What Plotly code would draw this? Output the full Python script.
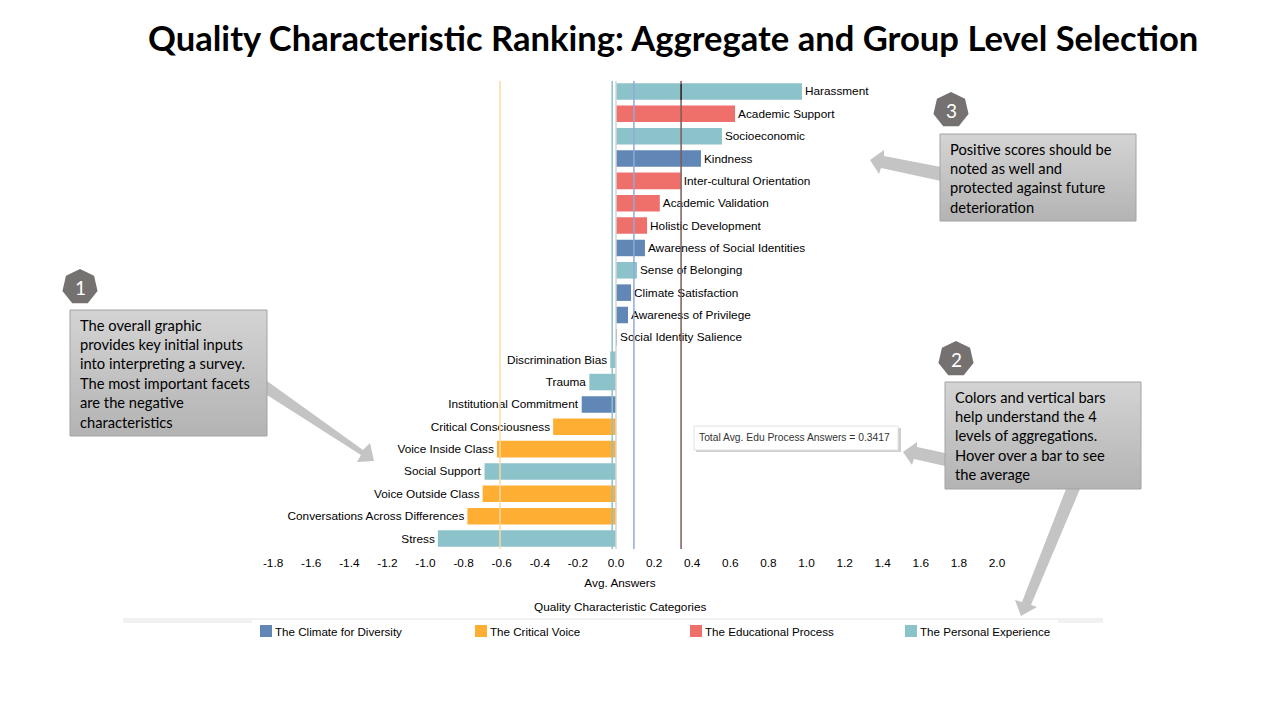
import plotly.graph_objects as go

W, H = 1280, 720
FONT = "Liberation Sans"
CALLOUT = "Lato"

characteristics = ["Harassment", "Academic Support", "Socioeconomic", "Kindness", "Inter-cultural Orientation",
                   "Academic Validation", "Holistic Development", "Awareness of Social Identities",
                   "Sense of Belonging", "Climate Satisfaction", "Awareness of Privilege",
                   "Social Identity Salience", "Discrimination Bias", "Trauma", "Institutional Commitment",
                   "Critical Consciousness", "Voice Inside Class", "Social Support", "Voice Outside Class",
                   "Conversations Across Differences", "Stress"]
avg_answers = [0.976, 0.625, 0.556, 0.446, 0.34, 0.23, 0.163, 0.152, 0.11, 0.079, 0.063,
               0.005, -0.03, -0.14, -0.18, -0.33, -0.625, -0.69, -0.70, -0.78, -0.935]
groups = ["P", "E", "P", "C", "E", "E", "E", "C", "P", "C", "C", "C", "P", "P", "C", "V", "V", "P", "V", "V", "P"]
group_names = {"C": "The Climate for Diversity", "V": "The Critical Voice",
               "E": "The Educational Process", "P": "The Personal Experience"}
group_colors = {"C": "#6087b5", "V": "#ffae34", "E": "#ef6f6a", "P": "#8cc2ca"}
x_ticks = [-1.8, -1.6, -1.4, -1.2, -1.0, -0.8, -0.6, -0.4, -0.2, 0.0, 0.2, 0.4, 0.6, 0.8, 1.0, 1.2, 1.4, 1.6, 1.8, 2.0]
x_tick_labels = [f"{t:.1f}" for t in x_ticks]
ref_lines = [(-0.609, "#fdd9a0", 1.5), (-0.02, "#8cc2ca", 1.5), (0.0, "#d4d4d4", 1.5),
             (0.094, "#93a9d8", 1.5), (0.3417, "#7c5a5a", 1.5)]

title_text = "Quality Characteristic Ranking: Aggregate and Group Level Selection"
box_1 = ["The overall graphic", "provides key initial inputs", "into interpreting a survey.",
         "The most important facets", "are the negative", "characteristics"]
box_2 = ["Colors and vertical bars", "help understand the 4", "levels of aggregations.",
         "Hover over a bar to see", "the average"]
box_3 = ["Positive scores should be", "noted as well and", "protected against future", "deterioration"]
tooltip_text = "Total Avg. Edu Process Answers = 0.3417"


def px(x):
    return x / W


def py(y):
    return 1 - y / H


def poly(points, fill, line="rgba(0,0,0,0)", width=0):
    path = "M " + " L ".join(f"{px(x):.5f},{py(y):.5f}" for x, y in points) + " Z"
    return dict(type="path", xref="paper", yref="paper", path=path, fillcolor=fill,
                line=dict(color=line, width=width), layer="above")


def rect(x0, y0, x1, y1, fill, line="rgba(0,0,0,0)", width=0):
    return dict(type="rect", xref="paper", yref="paper", x0=px(x0), x1=px(x1), y0=py(y0), y1=py(y1),
                fillcolor=fill, line=dict(color=line, width=width), layer="above")


def text_at(x, y, s, size, color="#000000", anchor="left", family=CALLOUT, weight=None):
    return dict(xref="paper", yref="paper", x=px(x), y=py(y), text=s, showarrow=False,
                xanchor=anchor, yanchor="middle", align=anchor,
                font=dict(size=size, color=color, family=family, weight=weight))


fig = go.Figure()
for key in group_names:
    idx = [i for i, g in enumerate(groups) if g == key]
    fig.add_trace(go.Bar(
        name=group_names[key], orientation="h",
        y=[characteristics[i] for i in idx], x=[avg_answers[i] for i in idx],
        text=[characteristics[i] for i in idx], textposition="outside", textangle=0,
        cliponaxis=False, constraintext="none",
        textfont=dict(family=FONT, size=11.8, color="#000000"),
        marker=dict(color=group_colors[key], line=dict(width=0)), width=0.74,
    ))

shapes = []
# legend band
shapes.append(dict(type="rect", xref="paper", yref="paper", x0=px(123), x1=px(1103), y0=py(623), y1=py(618),
                   fillcolor="#f1f1f1", line=dict(width=0), layer="below"))
shapes.append(dict(type="rect", xref="paper", yref="paper", x0=px(252), x1=px(1058), y0=py(645), y1=py(620),
                   fillcolor="#ffffff", line=dict(width=0), layer="below"))
# reference lines
for v, c, w in ref_lines:
    shapes.append(dict(type="line", xref="x", yref="paper", x0=v, x1=v, y0=py(549), y1=py(81),
                       line=dict(color=c, width=w), layer="above"))
shapes.append(dict(type="line", xref="x", yref="paper", x0=0.3417, x1=0.3417, y0=py(100), y1=py(84),
                   line=dict(color="#111111", width=1), layer="above"))

# arrows
ARROW = "#c4c4c4"
shapes.append(poly([(267, 381), (363, 450), (370, 443), (374, 461), (357, 462), (361, 455), (267, 395)], ARROW))
shapes.append(poly([(945, 453), (917, 447), (917, 442), (903, 452), (912, 465), (914, 459), (945, 466)], ARROW))
shapes.append(poly([(1066, 489), (1080, 489), (1031, 605), (1037, 607), (1021, 616), (1015, 600), (1022, 602)], ARROW))
shapes.append(poly([(941, 167), (884, 156), (884, 150), (870, 160), (879, 174), (881, 168), (941, 181)], ARROW))


def grad_box(x0, y0, x1, y1, n=24):
    out = []
    top, bottom = (211, 211, 211), (180, 180, 180)
    for k in range(n):
        t = k / (n - 1)
        c = tuple(round(a + (b - a) * t) for a, b in zip(top, bottom))
        ya = y0 + (y1 - y0) * k / n
        # every band runs to the box bottom, so no seams show between bands
        out.append(rect(x0, ya, x1, y1, f"rgb({c[0]},{c[1]},{c[2]})"))
    out.append(dict(type="rect", xref="paper", yref="paper", x0=px(x0), x1=px(x1), y0=py(y0), y1=py(y1),
                    fillcolor="rgba(0,0,0,0)", line=dict(color="#a3a3a3", width=1), layer="above"))
    return out


shapes += grad_box(70, 310, 267, 436)
shapes += grad_box(945, 382, 1141, 489)
shapes += grad_box(940, 134, 1136, 221)

# tooltip
shapes.append(rect(696, 428, 901, 452, "#cfcfcf"))
shapes.append(rect(694, 426, 898, 450, "#ffffff", "#e2e2e2", 1))


def heptagon(cx, cy, r):
    # flat bottom, apex on top
    offsets = [(0, -1), (0.78, -0.62), (0.975, 0.22), (0.43, 0.9), (-0.43, 0.9), (-0.975, 0.22), (-0.78, -0.62)]
    return poly([(cx + r * a, cy + r * b) for a, b in offsets], "#767171")


badges = [(80, 287, "1"), (956, 359, "2"), (951, 110, "3")]
for cx, cy, _ in badges:
    shapes.append(heptagon(cx, cy, 18))

ann = [text_at(673, 37, title_text, 34.6, anchor="center", weight="bold")]
for cx, cy, s in badges:
    ann.append(text_at(cx, cy, s, 19, "#ffffff", "center"))
for lines, x, y in ((box_1, 78, 324.5), (box_2, 953, 396.5), (box_3, 948, 148.5)):
    for i, s in enumerate(lines):
        ann.append(text_at(x, y + i * 19.4, s, 14.7))
ann.append(text_at(697, 437.5, tooltip_text, 10.3, "#333333", family=FONT))
ann.append(text_at(620, 607, "Quality Characteristic Categories", 11.8, anchor="center", family=FONT))

fig.update_layout(
    width=W, height=H, margin=dict(l=0, r=0, t=0, b=0, autoexpand=False),
    paper_bgcolor="#ffffff", plot_bgcolor="#ffffff", barmode="overlay",
    font=dict(family=FONT, size=11.8, color="#000000"),
    xaxis=dict(domain=[px(230), px(1010)], range=[(230 - 616) / 190.5, (1010 - 616) / 190.5],
               tickmode="array", tickvals=x_ticks, ticktext=x_tick_labels, ticks="outside", ticklen=2,
               tickcolor="rgba(0,0,0,0)", showgrid=False,
               zeroline=False, showline=False, tickfont=dict(family=FONT, size=11.8),
               title=dict(text="Avg. Answers", font=dict(family=FONT, size=11.8), standoff=9), automargin=False),
    yaxis=dict(domain=[py(549.7), py(80.3)], type="category", categoryorder="array",
               categoryarray=characteristics, range=[20.5, -0.5], showticklabels=False, ticks="",
               showgrid=False, zeroline=False, showline=False, automargin=False),
    legend=dict(orientation="h", x=px(235), y=py(631), xanchor="left", yanchor="middle",
                entrywidth=170, entrywidthmode="pixels", itemclick=False, itemdoubleclick=False,
                font=dict(family=FONT, size=11.6), bgcolor="rgba(0,0,0,0)", traceorder="normal"),
    shapes=shapes, annotations=ann, showlegend=True,
)

fig.write_html("out.html", config={"displayModeBar": False},
               post_script="document.body.style.margin='0';document.body.style.overflow='hidden';"
                           "document.querySelectorAll('.legendsymbols').forEach(function(e){"
                           "e.setAttribute('transform','translate(11,0)');});")
